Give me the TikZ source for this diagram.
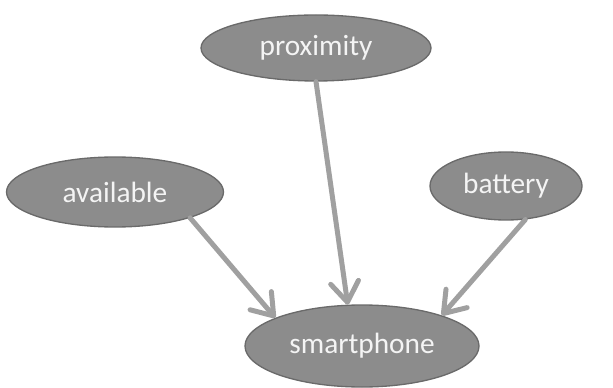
\documentclass[tikz,border=0pt]{standalone}
\usepackage{fontspec}
\setmainfont{Carlito}
\usetikzlibrary{shapes.geometric,arrows.meta}
\definecolor{nodefill}{HTML}{8C8C8C}
\definecolor{nodeline}{HTML}{6A6A6A}
\definecolor{nodetext}{HTML}{F4F4F4}
\definecolor{edgegray}{HTML}{A0A0A0}
\tikzset{
  var/.style={ellipse,draw=nodeline,fill=nodefill,line width=1pt,inner sep=0pt,
    text=nodetext,font=\fontsize{22}{26}\selectfont},
  link/.style={draw=edgegray,line width=3.75pt,line cap=round,
    -{Straight Barb[length=15pt,width=21pt,round]}}
}
\begin{document}
\begin{tikzpicture}[x=0.75pt,y=-0.75pt]
		\useasboundingbox (0,0) rectangle (613,388);
		\node[var,minimum width=172.5pt,minimum height=49.5pt] (prox) at (316,48) {proximity};
		\node[var,minimum width=162.75pt,minimum height=52.5pt] (avail) at (115,192) {available};
		\node[var,minimum width=114pt,minimum height=51pt] (batt) at (506,186) {battery};
		\node[var,minimum width=175.5pt,minimum height=61.5pt] (phone) at (362,346) {smartphone};

		\path[link] (prox.south) -- (phone.109);
		\path[link] (avail.-19) -- (phone.162);
		\path[link] (batt.-60) -- (phone.21);
		\end{tikzpicture}
\end{document}
